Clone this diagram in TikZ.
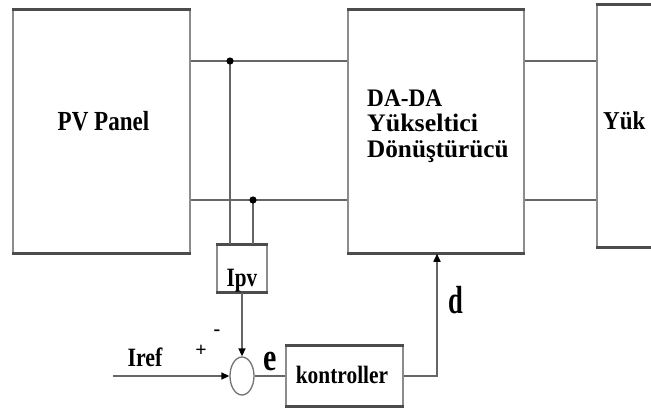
\documentclass[tikz,border=0pt]{standalone}
\usepackage{fontspec}
\setmainfont{Liberation Serif}
\usetikzlibrary{arrows.meta,shapes.geometric}
\begin{document}
\begin{tikzpicture}[x=1pt,y=-1pt,
  boxnode/.style={draw=black!45,line width=1.5pt,inner sep=0pt,fill=white},
  edgeline/.style={draw=black!70,line width=2.6pt},
  wire/.style={draw=black!60,line width=1.6pt},
  arr/.style={-{Triangle[length=8pt,width=7pt,color=black]}},
  lbl/.style={inner sep=0pt,font=\bfseries,text=black}]
\fill[white] (0,0) rectangle (651,410);
\useasboundingbox (0,0) rectangle (651,410);
% boxes
\node[boxnode,minimum width=177pt,minimum height=243pt] (pv) at (101.5,131.5) {};
\node[boxnode,minimum width=176pt,minimum height=243pt] (conv) at (436,131.5) {};
\node[boxnode,minimum width=83pt,minimum height=242pt] (load) at (638.5,126) {};
\node[boxnode,minimum width=50pt,minimum height=47pt] (ipv) at (242,268.5) {};
\node[boxnode,minimum width=117pt,minimum height=60pt] (ctrl) at (344.5,376) {};
\node[draw=black!55,line width=1.3pt,ellipse,minimum width=24pt,minimum height=38pt,inner sep=0pt] (sum) at (242,376) {};
% darker top/bottom edges
\foreach \b in {pv,conv,load,ipv,ctrl}{
  \draw[edgeline] (\b.north west) -- (\b.north east);
  \draw[edgeline] (\b.south west) -- (\b.south east);
}
% junctions
\coordinate (j1) at (230,61);
\coordinate (j2) at (253,200);
\coordinate (irefin) at (113,376);
\coordinate (dx) at (437,300);
% wires
\draw[wire] (pv.east |- j1) -- (conv.west |- j1);
\draw[wire] (pv.east |- j2) -- (conv.west |- j2);
\draw[wire] (conv.east |- j1) -- (load.west |- j1);
\draw[wire] (conv.east |- j2) -- (load.west |- j2);
\draw[wire] (j1) -- (j1 |- ipv.north);
\draw[wire] (j2) -- (j2 |- ipv.north);
\fill[black] (j1) circle (3.6pt);
\fill[black] (j2) circle (3.6pt);
\draw[wire,arr] (ipv.south) -- (sum.north);
\draw[wire,arr] (irefin) -- (sum.west);
\draw[wire] (sum.east) -- (ctrl.west);
\draw[wire,arr] (ctrl.east) -| (conv.south -| dx);
% labels
\node[lbl,font=\bfseries\fontsize{24}{24}\selectfont,anchor=base] (pvt) at (103.5,130) {\scalebox{0.96}[1.15]{PV Panel}};
\node[lbl,font=\bfseries\fontsize{24}{25}\selectfont,anchor=base west] (c1) at (367,106) {\scalebox{0.97}[1.05]{DA-DA}};
\node[lbl,font=\bfseries\fontsize{24}{25}\selectfont,anchor=base west] (c2) at (367,131.5) {\scalebox{1.08}[1.05]{Yükseltici}};
\node[lbl,font=\bfseries\fontsize{24}{25}\selectfont,anchor=base west] (c3) at (367,157) {\scalebox{1.05}[1.05]{Dönüştürücü}};
\node[lbl,font=\bfseries\fontsize{23}{23}\selectfont,anchor=base west] (lt) at (603,129) {\scalebox{1}[1.12]{Yük}};
\node[lbl,font=\bfseries\fontsize{23}{23}\selectfont,anchor=base] (ipvt) at (242,286) {\scalebox{0.92}[1.15]{Ipv}};
\node[lbl,font=\bfseries\fontsize{23}{23}\selectfont,anchor=base] (ireft) at (145,366) {\scalebox{0.95}[1.15]{Iref}};
\node[lbl,font=\bfseries\fontsize{20}{20}\selectfont] (plus) at (201,351) {+};
\node[lbl,font=\bfseries\fontsize{20}{20}\selectfont] (minus) at (217,333) {-};
\node[lbl,font=\bfseries\fontsize{30}{30}\selectfont,anchor=base] (et) at (270,370) {\scalebox{1}[1.3]{e}};
\node[lbl,font=\bfseries\fontsize{20}{20}\selectfont,anchor=base] (kt) at (342,383) {\scalebox{1.07}[1.25]{kontroller}};
\node[lbl,font=\bfseries\fontsize{28}{28}\selectfont,anchor=base] (dt) at (455.5,313) {\scalebox{0.95}[1.4]{d}};
\end{tikzpicture}
\end{document}
